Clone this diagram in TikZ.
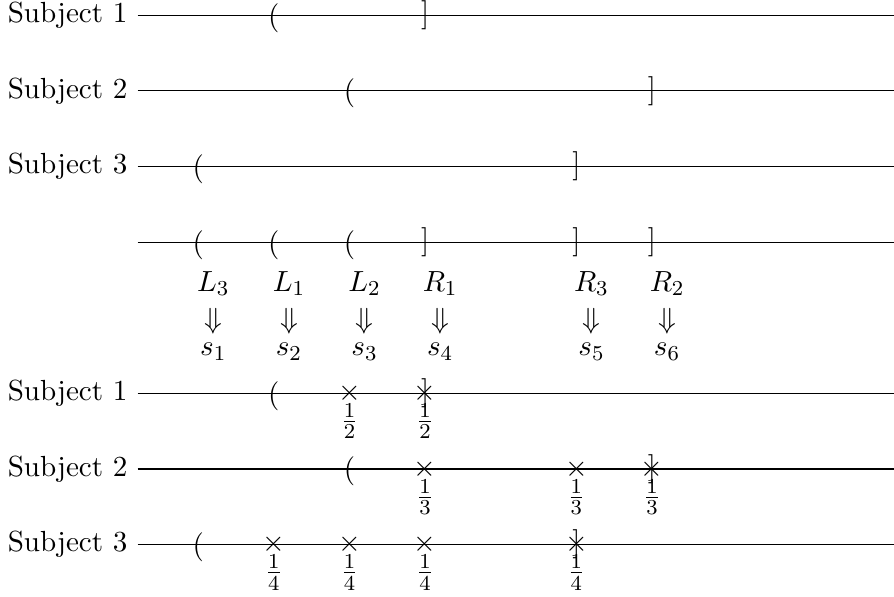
\documentclass[tikz,border=0pt,11pt]{standalone}
\usepackage{amsmath,amssymb}
\usepackage{tikz}
\usetikzlibrary{positioning,calc}

\begin{document}
\begin{tikzpicture}[
    subj/.style={anchor=east},
    brk/.style={inner sep=0pt},
    frc/.style={inner sep=0pt}]
\useasboundingbox (-1.821,0.201) rectangle (10,-7.683);

% Subjects with their intervals
\foreach \y/\n/\l/\r in {0/1/1.8/3.8, -1/2/2.8/6.8, -2/3/0.8/5.8} {
    \node[subj] (top\n) at (0,\y) {Subject \n};
    \coordinate (topend\n) at (10,\y);
    \draw (top\n.east) -- (topend\n);
    \node[brk] (topl\n) at (\l,\y-0.035) {$($};
    \node[brk] (topr\n) at (\r,\y) {$]$};
}

% All end points on one line
\coordinate (all0) at (0,-3);
\coordinate (all1) at (10,-3);
\draw (all0) -- (all1);
\foreach \x/\t/\s in {0.8/L_3/1, 1.8/L_1/2, 2.8/L_2/3} {
    \node[brk] (ep\s) at (\x,-3.035) {$($};
}
\foreach \x/\t/\s in {3.8/R_1/4, 5.8/R_3/5, 6.8/R_2/6} {
    \node[brk] (ep\s) at (\x,-3) {$]$};
}
\foreach \x/\t/\s in {0.8/L_3/1, 1.8/L_1/2, 2.8/L_2/3, 3.8/R_1/4, 5.8/R_3/5, 6.8/R_2/6} {
    \node (lab\s) at (\x+0.2,-3.55) {$\t$};
    \node (arr\s) at (\x+0.2,-4.05) {$\Downarrow$};
    \node (sym\s) at (\x+0.2,-4.45) {$s_{\s}$};
}

% Subjects with their masses
\foreach \y/\n/\l/\r in {-5/1/1.8/3.8, -6/2/2.8/6.8, -7/3/0.8/5.8} {
    \node[subj] (bot\n) at (0,\y) {Subject \n};
    \coordinate (botend\n) at (10,\y);
    \draw (bot\n.east) -- (botend\n);
    \node[brk] (botl\n) at (\l,\y-0.035) {$($};
    \node[brk] (botr\n) at (\r,\y) {$]$};
}
\foreach \x/\y/\d [count=\i] in {2.8/-5/2, 3.8/-5/2,
        3.8/-6/3, 5.8/-6/3, 6.8/-6/3,
        1.8/-7/4, 2.8/-7/4, 3.8/-7/4, 5.8/-7/4} {
    \node[brk] (cr\i) at (\x,\y) {$\times$};
    \node[frc] (fr\i) at (\x,\y-0.37) {$\frac{1}{\d}$};
}
\end{tikzpicture}
\end{document}
